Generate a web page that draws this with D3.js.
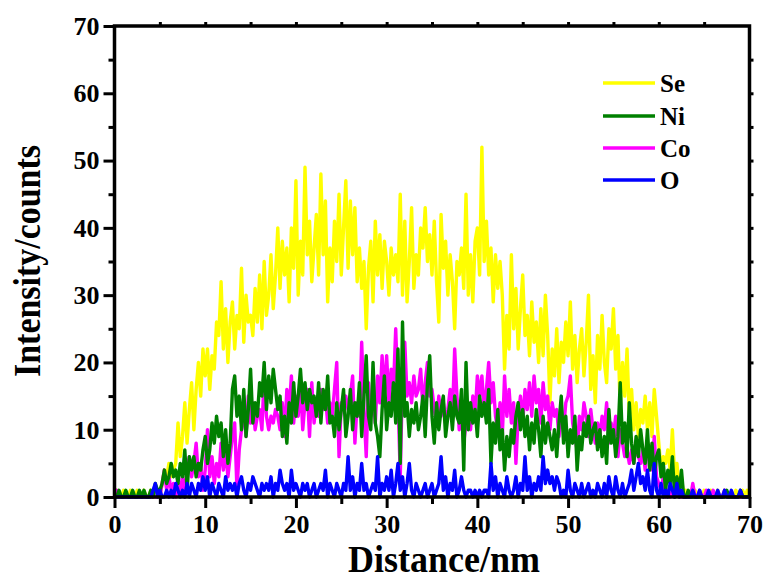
<!DOCTYPE html>
<html>
<head>
<meta charset="utf-8">
<script src="https://cdn.jsdelivr.net/npm/d3@7/dist/d3.min.js"></script>
<style>
  html, body { margin: 0; padding: 0; background: #fff; }
  svg { display: block; }
  text { font-family: "Liberation Serif", "Times New Roman", serif; font-weight: bold; fill: #000; }
</style>
</head>
<body>
<svg id="chart" width="769" height="580"></svg>
<script>
// ---- data (sampled every 0.25 nm from 0 to 70 nm) ----
const distanceStep = 0.25;
const xTicks = [0, 10, 20, 30, 40, 50, 60, 70];
const yTicks = [0, 10, 20, 30, 40, 50, 60, 70];
const seriesNames = ["Se", "Ni", "Co", "O"];
const seriesColors = ["#ffff00", "#008000", "#ff00ff", "#0000ff"];

const seValues = [
  0,1,0,0, 1,0,0,1, 0,0,1,0, 0,1,0,0, 1,0,0,1,
  0,2,4,3, 5,3,4,5, 11,6,9,14, 8,13,17,10, 16,20,15,22,
  18,22,16,21, 19,26,24,32, 22,28,20,26, 29,22,27,25, 34,23,30,26,
  27,24,31,26, 33,25,35,27, 30,36,28,33, 40,31,38,33, 37,29,40,34,
  47,30,38,33, 49,36,41,32, 37,42,33,48, 36,44,29,37, 32,41,35,45,
  33,40,47,34, 44,36,43,32, 37,31,35,25, 34,38,29,41, 33,39,31,38,
  35,30,37,33, 36,32,45,30, 41,29,35,43, 31,36,33,40, 37,43,35,39,
  33,41,32,26, 42,34,38,30, 36,32,25,35, 33,37,31,45, 30,36,29,38,
  40,33,52,35, 41,33,37,29, 36,31,35,30, 19,27,22,36, 25,31,22,28,
  33,24,27,21, 29,23,26,20, 28,21,30,24, 14,22,18,25, 17,23,20,26,
  21,29,19,24, 17,22,25,18, 23,30,16,21, 14,24,19,27, 20,17,25,22,
  28,19,24,13, 20,15,22,12, 16,10,14,9, 13,11,15,10, 14,9,16,12,
  8,4,6,5, 7,4,10,3, 5,1,3,0, 1,0,0,0, 1,0,0,0,
  1,0,0,1, 0,0,1,0, 0,1,0,0, 0,0,1,0, 0,1,0,1,
  0
];
const niValues = [
  0,0,1,0, 0,1,0,0, 1,0,0,1, 0,1,0,0, 1,0,2,1,
  1,2,4,2, 3,5,3,4, 2,5,3,7, 1,6,4,6, 3,5,4,7,
  9,5,7,11, 8,12,9,11, 6,10,5,8, 16,18,12,15, 10,16,9,13,
  19,11,14,12, 17,15,20,13, 18,14,19,16, 13,15,9,12, 8,14,11,17,
  12,15,19,14, 17,13,16,14, 15,12,17,11, 16,13,18,11, 12,9,14,10,
  13,16,9,12, 16,10,14,12, 17,9,15,21, 12,10,20,11, 9,6,13,18,
  10,14,12,17, 11,22,5,26, 12,14,9,13, 11,14,10,12, 15,9,17,21,
  12,8,14,10, 13,15,9,12, 14,10,15,12, 11,16,4,20, 10,14,11,13,
  9,15,12,14, 11,16,5,11, 8,13,7,10, 4,9,6,10, 8,12,14,10,
  13,9,12,7, 11,8,13,10, 6,12,8,11, 9,7,10,6, 11,15,8,12,
  6,10,8,12, 4,9,7,11, 9,12,8,10, 11,7,10,6, 9,5,13,8,
  10,6,9,17, 8,11,6,14, 8,5,9,6, 10,7,5,10, 4,8,3,6,
  7,3,5,1, 4,2,6,0, 3,1,4,0, 0,1,0,0, 0,0,0,0,
  0,0,0,0, 0,0,0,0, 0,0,1,0, 0,0,0,0, 1,0,0,0,
  0
];
const coValues = [
  0,1,0,0, 0,0,0,0, 0,0,0,0, 0,0,0,0, 0,0,0,0,
  0,2,4,1, 3,1,2,0, 2,1,3,0, 4,6,3,5, 8,3,5,1,
  4,10,3,6, 2,5,3,8, 4,7,3,6, 9,11,1,7, 10,13,9,15,
  11,14,10,12, 13,10,18,12, 10,12,11,13, 12,10,14,9, 16,13,18,11,
  15,12,17,10, 14,16,9,17, 11,14,12,16, 13,15,11,14, 12,16,20,6,
  14,13,15,13, 15,18,8,14, 12,23,13,6, 17,12,15,11, 18,14,21,15,
  21,14,19,16, 25,15,3,18, 23,15,17,14, 18,15,16,19, 13,17,20,15,
  16,13,11,15, 12,14,11,13, 16,12,22,15, 10,13,8,11, 14,10,15,12,
  18,15,18,13, 16,20,14,17, 12,10,14,9, 18,12,16,11, 14,5,12,15,
  11,16,13,17, 12,18,14,16, 11,17,13,15, 10,14,12,13, 9,12,10,14,
  15,18,11,9, 7,12,10,14, 12,9,13,10, 8,11,9,12, 10,14,8,11,
  9,12,6,10, 8,6,7,5, 7,5,8,6, 5,7,4,8, 6,4,9,3,
  2,1,3,0, 1,0,1,0, 1,0,0,0, 0,0,0,2, 0,0,1,0,
  0,1,0,0, 1,0,0,0, 0,1,0,0, 0,0,0,0, 0,0,0,0,
  0
];
const oValues = [
  0,0,0,0, 0,0,0,0, 0,0,0,0, 0,0,0,0, 0,1,2,0,
  1,0,0,1, 0,1,0,2, 1,0,1,0, 2,0,2,1, 0,2,1,3,
  1,3,0,2, 1,0,2,1, 0,3,1,2, 1,2,0,2, 3,1,0,2,
  1,3,2,1, 0,2,1,2, 1,3,0,2, 1,4,2,1, 2,0,4,1,
  2,1,0,2, 1,2,0,1, 2,0,1,2, 1,4,0,2, 1,0,2,1,
  0,2,1,6, 1,3,0,2, 1,5,1,2, 0,1,2,1, 6,0,2,1,
  3,1,4,0, 2,5,1,3, 0,2,5,1, 0,2,1,0, 1,2,0,1,
  2,0,1,2, 6,1,3,0, 2,1,4,0, 1,3,1,0, 1,1,0,1,
  0,1,0,1, 1,0,5,1, 3,0,2,1, 0,3,1,0, 1,3,0,2,
  1,6,1,3, 0,2,1,3, 1,6,2,4, 2,3,1,3, 2,0,1,0,
  4,1,0,2, 1,0,2,0, 1,2,0,1, 0,2,1,0, 2,0,3,1,
  0,3,1,0, 2,0,1,2, 4,1,3,5, 2,3,1,4, 1,0,5,1,
  0,2,0,1, 0,2,1,0, 2,0,1,0, 0,0,0,1, 0,0,1,0,
  0,0,1,0, 0,0,1,0, 0,1,0,0, 1,0,0,0, 1,0,0,0,
  0
];
const seriesValues = [seValues, niValues, coValues, oValues];
const drawOrder = [0, 2, 1, 3]; // Se, Co, Ni, O

// ---- layout ----
const svg = d3.select("#chart");
const plotLeft = 114.5, plotRight = 749.5, plotTop = 26, plotBottom = 497;
const x = d3.scaleLinear().domain([0, 70]).range([plotLeft, plotRight]);
const y = d3.scaleLinear().domain([0, 70]).range([plotBottom, plotTop]);

// ---- data lines ----
const line = d3.line()
  .x((d, i) => x(i * distanceStep))
  .y(d => y(d))
  .curve(d3.curveLinear);

const plot = svg.append("g");
drawOrder.forEach(k => {
  plot.append("path")
    .datum(seriesValues[k])
    .attr("d", line)
    .attr("fill", "none")
    .attr("stroke", seriesColors[k])
    .attr("stroke-width", 3.4)
    .attr("stroke-linejoin", "round");
});

// ---- axes ----
const minorTicks = d3.range(5, 70, 10);
function styleAxis(g) {
  g.select(".domain").remove();
  g.selectAll(".tick line").attr("stroke", "#000").attr("stroke-width", 3);
}
function styleText(g) {
  g.selectAll("text")
    .attr("font-size", 26)
    .attr("font-family", "Liberation Serif, serif")
    .attr("font-weight", "bold")
    .attr("fill", "#000");
}
// left
svg.append("g").attr("transform", `translate(${plotLeft},0)`)
  .call(d3.axisLeft(y).tickValues(yTicks).tickSize(11).tickPadding(4).tickFormat(d3.format("d")))
  .call(styleAxis).call(styleText);
svg.append("g").attr("transform", `translate(${plotLeft},0)`)
  .call(d3.axisLeft(y).tickValues(minorTicks).tickSize(6).tickFormat(""))
  .call(styleAxis);
// bottom
svg.append("g").attr("transform", `translate(0,${plotBottom})`)
  .call(d3.axisBottom(x).tickValues(xTicks).tickSize(11).tickPadding(7).tickFormat(d3.format("d")))
  .call(styleAxis).call(styleText);
svg.append("g").attr("transform", `translate(0,${plotBottom})`)
  .call(d3.axisBottom(x).tickValues(minorTicks).tickSize(7).tickFormat(""))
  .call(styleAxis);
// right and top small ticks
svg.append("g").attr("transform", `translate(${plotRight},0)`)
  .call(d3.axisRight(y).tickValues(d3.range(5, 70, 5)).tickSize(4).tickFormat(""))
  .call(styleAxis);
svg.append("g").attr("transform", `translate(0,${plotTop})`)
  .call(d3.axisTop(x).tickValues(d3.range(5, 70, 5)).tickSize(4).tickFormat(""))
  .call(styleAxis);

// frame
svg.append("rect")
  .attr("x", plotLeft).attr("y", plotTop)
  .attr("width", plotRight - plotLeft).attr("height", plotBottom - plotTop)
  .attr("fill", "none").attr("stroke", "#000").attr("stroke-width", 3.5);

// ---- axis titles ----
svg.append("text")
  .attr("x", 444).attr("y", 572)
  .attr("text-anchor", "middle")
  .attr("font-size", 37)
  .attr("textLength", 192).attr("lengthAdjust", "spacingAndGlyphs")
  .text("Distance/nm");
svg.append("text")
  .attr("transform", "translate(40,261) rotate(-90)")
  .attr("text-anchor", "middle")
  .attr("font-size", 37)
  .attr("textLength", 232).attr("lengthAdjust", "spacingAndGlyphs")
  .text("Intensity/counts");

// ---- legend ----
const legendY = [83, 116, 148, 180];
const legend = svg.append("g");
seriesNames.forEach((name, k) => {
  legend.append("line")
    .attr("x1", 603).attr("x2", 655)
    .attr("y1", legendY[k]).attr("y2", legendY[k])
    .attr("stroke", seriesColors[k]).attr("stroke-width", 3.5);
  legend.append("text")
    .attr("x", 660).attr("y", legendY[k] + 9)
    .attr("font-size", 25)
    .text(name);
});
</script>
</body>
</html>
